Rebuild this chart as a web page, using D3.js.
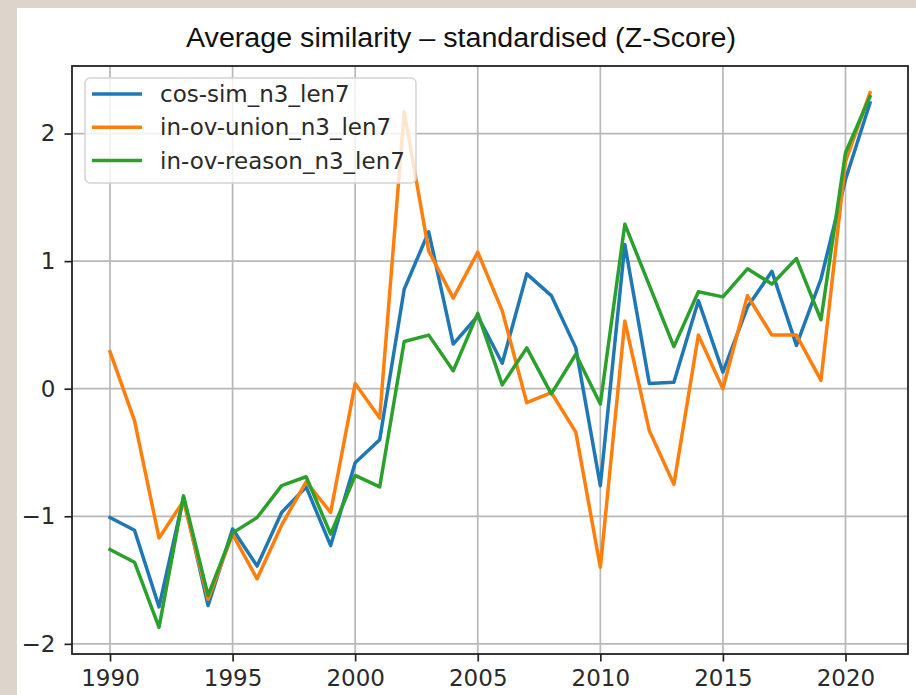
<!DOCTYPE html>
<html>
<head>
<meta charset="utf-8">
<script src="https://cdn.jsdelivr.net/npm/d3@7"></script>
<style>
  body { margin: 0; background: #ddd5cc; }
  svg { display: block; }
</style>
</head>
<body>
<script>
// Data
var years = d3.range(1990, 2022);

var cosSim = [-1.01, -1.11, -1.71, -0.85, -1.70, -1.10, -1.39, -0.97, -0.77, -1.23,
              -0.58, -0.40, 0.78, 1.23, 0.35, 0.57, 0.20, 0.90, 0.73, 0.32,
              -0.76, 1.13, 0.04, 0.05, 0.69, 0.13, 0.64, 0.92, 0.34, 0.86,
              1.64, 2.24];

var inOvUnion = [0.29, -0.25, -1.17, -0.88, -1.65, -1.14, -1.49, -1.07, -0.73, -0.97,
                 0.04, -0.23, 2.17, 1.08, 0.71, 1.07, 0.61, -0.11, -0.03, -0.34,
                 -1.40, 0.53, -0.33, -0.75, 0.42, 0.00, 0.73, 0.42, 0.42, 0.065,
                 1.78, 2.32];

var inOvReason = [-1.26, -1.36, -1.87, -0.84, -1.62, -1.13, -1.01, -0.76, -0.69, -1.14,
                  -0.68, -0.77, 0.37, 0.42, 0.14, 0.59, 0.03, 0.32, -0.04, 0.27,
                  -0.12, 1.29, 0.81, 0.33, 0.76, 0.72, 0.94, 0.82, 1.02, 0.54,
                  1.85, 2.29];

var seriesNames = ["cos-sim_n3_len7", "in-ov-union_n3_len7", "in-ov-reason_n3_len7"];
var seriesColors = ["#1f77b4", "#ff7f0e", "#2ca02c"];
var xTicks = [1990, 1995, 2000, 2005, 2010, 2015, 2020];
var yTicks = [-2, -1, 0, 1, 2];
var title = "Average similarity \u2013 standardised (Z-Score)";

var allSeries = [cosSim, inOvUnion, inOvReason];

var W = 916, H = 695;
var plot = {left: 72, right: 908, top: 66, bottom: 654};
var font = "'DejaVu Sans', sans-serif";

var svg = d3.select("body").append("svg")
    .attr("width", W)
    .attr("height", H);

// white figure area inside the beige frame
svg.append("rect")
    .attr("x", 17).attr("y", 8)
    .attr("width", W - 17).attr("height", H - 8)
    .attr("fill", "#ffffff");

// matplotlib style 5% margins
var xPad = (years[years.length - 1] - years[0]) * 0.05;
var x = d3.scaleLinear()
    .domain([years[0] - xPad, years[years.length - 1] + xPad])
    .range([plot.left, plot.right]);

var yMin = d3.min(allSeries, function(s) { return d3.min(s); });
var yMax = d3.max(allSeries, function(s) { return d3.max(s); });
var yPad = (yMax - yMin) * 0.05;
var y = d3.scaleLinear()
    .domain([yMin - yPad, yMax + yPad])
    .range([plot.bottom, plot.top]);

// grid
var grid = svg.append("g");
grid.selectAll(".gx").data(xTicks).enter().append("line")
    .attr("x1", function(d) { return x(d); })
    .attr("x2", function(d) { return x(d); })
    .attr("y1", plot.top).attr("y2", plot.bottom)
    .attr("stroke", "#b8b8b8").attr("stroke-width", 1.7);
grid.selectAll(".gy").data(yTicks).enter().append("line")
    .attr("y1", function(d) { return y(d); })
    .attr("y2", function(d) { return y(d); })
    .attr("x1", plot.left).attr("x2", plot.right)
    .attr("stroke", "#b8b8b8").attr("stroke-width", 1.7);

// lines
var line = d3.line()
    .x(function(d, i) { return x(years[i]); })
    .y(function(d) { return y(d); });

svg.selectAll(".series")
    .data(allSeries)
  .enter().append("path")
    .attr("class", "series")
    .attr("d", line)
    .attr("fill", "none")
    .attr("stroke", function(d, i) { return seriesColors[i]; })
    .attr("stroke-width", 3.5)
    .attr("stroke-linejoin", "round")
    .attr("stroke-linecap", "square");

// axes
var xAxis = svg.append("g")
    .attr("transform", "translate(0," + plot.bottom + ")")
    .call(d3.axisBottom(x).tickValues(xTicks).tickFormat(d3.format("d"))
      .tickSizeInner(7.5).tickSizeOuter(0).tickPadding(8));

var yAxis = svg.append("g")
    .attr("transform", "translate(" + plot.left + ",0)")
    .call(d3.axisLeft(y).tickValues(yTicks)
      .tickFormat(function(d) { return d < 0 ? "\u2212" + Math.abs(d) : d; })
      .tickSizeInner(7.5).tickSizeOuter(0).tickPadding(9));

[xAxis, yAxis].forEach(function(a) {
  a.select(".domain").remove();
  a.selectAll("line").attr("stroke", "#222").attr("stroke-width", 1.7);
  a.selectAll("text").attr("fill", "#2a2a2a")
    .style("font-family", font).style("font-size", "23px");
});

// spines
svg.append("rect")
    .attr("x", plot.left).attr("y", plot.top)
    .attr("width", plot.right - plot.left)
    .attr("height", plot.bottom - plot.top)
    .attr("fill", "none")
    .attr("stroke", "#222").attr("stroke-width", 1.8);

// legend
var legend = svg.append("g");
legend.append("rect")
    .attr("x", 85).attr("y", 78)
    .attr("width", 331).attr("height", 105)
    .attr("rx", 5)
    .attr("fill", "#ffffff").attr("fill-opacity", 0.8)
    .attr("stroke", "#d4d4d4").attr("stroke-width", 1.5);

var rows = legend.selectAll(".row")
    .data(seriesNames)
  .enter().append("g")
    .attr("transform", function(d, i) { return "translate(0," + (94 + i * 33.3) + ")"; });

rows.append("line")
    .attr("x1", 92).attr("x2", 142)
    .attr("stroke", function(d, i) { return seriesColors[i]; })
    .attr("stroke-width", 3.5);

rows.append("text")
    .attr("x", 160).attr("dy", "0.35em")
    .attr("fill", "#2a2a2a")
    .style("font-family", font).style("font-size", "23px")
    .text(function(d) { return d; });

// title
svg.append("text")
    .attr("x", 461).attr("y", 47)
    .attr("text-anchor", "middle")
    .attr("fill", "#111")
    .attr("textLength", 550)
    .attr("lengthAdjust", "spacingAndGlyphs")
    .style("font-family", "'Liberation Sans', Arial, sans-serif")
    .style("font-size", "27px")
    .text(title);
</script>
</body>
</html>
